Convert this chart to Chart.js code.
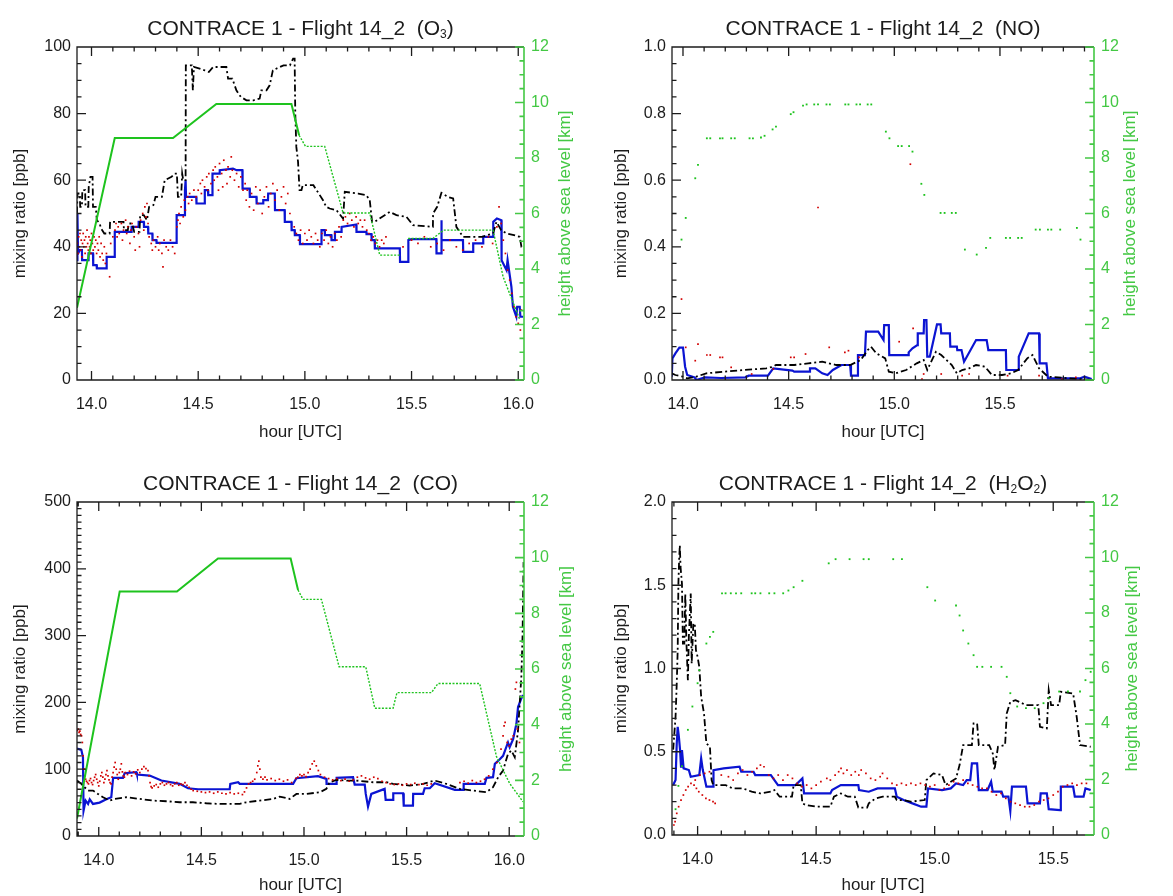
<!DOCTYPE html>
<html>
<head>
<meta charset="utf-8">
<script src="https://cdn.jsdelivr.net/npm/chart.js@4.4.0/dist/chart.umd.min.js"></script>
<style>
body{margin:0;background:#fff;width:1173px;height:896px;position:relative;overflow:hidden}
canvas{position:absolute}
</style>
</head>
<body>
<canvas id="o3" width="586" height="448" style="left:0;top:0"></canvas>
<canvas id="no" width="587" height="448" style="left:586px;top:0"></canvas>
<canvas id="co" width="586" height="448" style="left:0;top:448px"></canvas>
<canvas id="h2o2" width="587" height="448" style="left:586px;top:448px"></canvas>
<script>
// ---- O3 panel: [hour UTC, ppb] / [hour UTC, km]
const o3Blue = [[13.932,36],[13.932,50],[13.936,50],[13.937,38],[13.945,39],[13.955,39],[13.956,36],[13.985,36],[13.986,38],[14.007,38],[14.008,34.5],[14.024,34.5],[14.025,33.5],[14.07,33.5],[14.071,37],[14.108,37],[14.109,44.5],[14.187,44.5],[14.188,46],[14.22,46],[14.221,47.5],[14.245,47.5],[14.246,46],[14.265,46],[14.266,44],[14.285,44],[14.286,42],[14.304,42],[14.305,41.2],[14.398,41.2],[14.399,49.5],[14.437,49.5],[14.438,57],[14.441,60],[14.443,55],[14.491,55],[14.492,53],[14.53,53],[14.531,57],[14.546,57],[14.547,55.5],[14.566,55.5],[14.567,62],[14.6,62],[14.601,63],[14.663,63.5],[14.68,63],[14.707,63],[14.708,57.5],[14.741,57.5],[14.742,55],[14.773,55],[14.774,53],[14.804,53],[14.805,54],[14.827,54],[14.828,56],[14.859,56],[14.86,51],[14.905,51],[14.906,47.5],[14.937,47.5],[14.938,45],[14.952,45],[14.953,43.5],[14.976,43.5],[14.977,40.8],[15.077,40.8],[15.078,45],[15.093,45],[15.094,43.5],[15.124,43.5],[15.125,42],[15.14,42],[15.141,44.5],[15.171,44.5],[15.172,46],[15.241,46.7],[15.242,44.5],[15.288,44.5],[15.289,43.8],[15.312,43.8],[15.313,42],[15.327,42],[15.328,39.5],[15.445,39.5],[15.446,35.5],[15.484,35.5],[15.485,42],[15.5,42.3],[15.616,42.3],[15.617,38],[15.638,38],[15.64,48],[15.641,42],[15.741,42],[15.742,38.5],[15.788,38.5],[15.789,41],[15.835,41],[15.836,43],[15.882,43],[15.883,47.5],[15.9,48.5],[15.921,48],[15.922,36],[15.945,33],[15.95,36],[15.968,28],[15.975,22],[15.991,19],[15.995,22],[16.007,22],[16.01,19],[16.023,19]];
const o3Black = [[13.932,50],[13.934,56],[13.945,56],[13.947,52],[13.955,52],[13.957,57],[13.97,57],[13.972,52],[13.985,52],[13.987,58],[13.995,61],[14.005,61],[14.007,52],[14.02,52],[14.025,48],[14.038,47],[14.045,45.5],[14.06,44],[14.085,44],[14.087,47.5],[14.15,47.5],[14.152,45],[14.17,45],[14.175,47],[14.19,47],[14.2,44.5],[14.225,44.5],[14.228,49.5],[14.245,49.5],[14.26,48],[14.27,52],[14.29,52.5],[14.3,55],[14.33,55],[14.343,60],[14.375,61],[14.39,62],[14.4,62],[14.405,55],[14.42,55],[14.425,62],[14.43,60],[14.441,60],[14.442,94.5],[14.47,94.5],[14.475,87],[14.48,94],[14.507,93.5],[14.53,93],[14.55,92.5],[14.57,94],[14.632,94],[14.64,90.5],[14.66,90.5],[14.679,87],[14.7,85],[14.726,84],[14.76,84],[14.788,84.5],[14.796,87],[14.82,87],[14.835,88.5],[14.85,93],[14.9,94.5],[14.93,94.5],[14.945,96.5],[14.952,96.5],[14.955,80],[14.96,70],[14.968,65.5],[14.975,57],[14.984,57],[14.99,58.5],[15.04,58.5],[15.085,54],[15.1,52],[15.116,51.5],[15.148,51],[15.179,48.5],[15.187,56.5],[15.25,56],[15.288,55.5],[15.304,54],[15.315,47.5],[15.327,47.5],[15.35,48.5],[15.398,50.5],[15.429,49.5],[15.476,49],[15.507,46.5],[15.6,46],[15.601,50],[15.62,52],[15.64,56.2],[15.67,55],[15.695,54.5],[15.71,46],[15.741,43],[15.83,43],[15.882,44],[15.898,47.5],[15.92,45],[15.945,44],[15.98,43.5],[16.007,43],[16.015,40],[16.023,40]];
const o3Red = [[13.934,41],[13.937,38],[13.94,43],[13.943,40],[13.946,44],[13.949,39],[13.952,42],[13.955,37],[13.958,41],[13.961,44],[13.964,40],[13.967,42],[13.97,38],[13.973,43],[13.976,40],[13.979,45],[13.982,41],[13.985,39],[13.988,43],[13.991,40],[13.994,42],[13.997,38],[14.0,44],[14.004,41],[14.008,39],[14.012,43],[14.016,40],[14.02,42],[14.024,38],[14.028,41],[14.032,39],[14.036,43],[14.04,37],[14.045,41],[14.05,38],[14.055,36],[14.06,40],[14.065,35],[14.07,38],[14.085,31],[14.09,41],[14.1,43],[14.11,45],[14.115,47],[14.12,43],[14.125,46],[14.13,44],[14.14,47],[14.145,42],[14.15,45],[14.16,48],[14.165,44],[14.17,46],[14.18,41],[14.185,45],[14.19,47],[14.2,43],[14.205,39],[14.21,46],[14.22,44],[14.225,40],[14.23,48],[14.24,50],[14.245,45],[14.25,52],[14.255,49],[14.26,53],[14.265,47],[14.27,43],[14.28,41],[14.285,39],[14.29,42],[14.3,40],[14.31,43],[14.315,39],[14.32,41],[14.33,38],[14.335,34],[14.34,42],[14.35,40],[14.36,39],[14.37,42],[14.38,40],[14.39,38],[14.4,46],[14.405,48],[14.41,50],[14.415,47],[14.42,52],[14.43,49],[14.435,54],[14.44,51],[14.45,55],[14.455,53],[14.46,56],[14.47,54],[14.48,57],[14.49,55],[14.5,57],[14.51,59],[14.515,56],[14.52,60],[14.53,58],[14.54,61],[14.545,57],[14.55,62],[14.56,59],[14.57,63],[14.575,60],[14.58,64],[14.59,61],[14.595,57],[14.6,65],[14.61,62],[14.615,58],[14.62,66],[14.63,63],[14.635,59],[14.64,64],[14.65,61],[14.655,67],[14.66,63],[14.67,60],[14.68,62],[14.69,58],[14.7,61],[14.71,57],[14.72,59],[14.725,54],[14.73,57],[14.74,52],[14.75,56],[14.76,51],[14.77,58],[14.78,53],[14.79,57],[14.8,50],[14.81,55],[14.82,58],[14.83,52],[14.84,56],[14.85,59],[14.86,54],[14.87,57],[14.88,51],[14.89,55],[14.9,58],[14.91,53],[14.92,56],[14.93,50],[14.95,46],[14.96,44],[14.97,42],[14.98,45],[14.99,41],[15.0,44],[15.01,42],[15.02,45],[15.03,43],[15.04,41],[15.05,44],[15.06,42],[15.07,40],[15.08,44],[15.09,42],[15.1,45],[15.11,41],[15.12,43],[15.13,40],[15.14,44],[15.15,42],[15.16,46],[15.17,43],[15.18,48],[15.19,49],[15.2,47],[15.21,50],[15.22,48],[15.23,46],[15.24,49],[15.25,47],[15.26,48],[15.27,46],[15.28,48],[15.29,45],[15.3,44],[15.31,42],[15.32,43],[15.33,41],[15.34,42],[15.35,40],[15.36,42],[15.37,41],[15.38,43],[15.46,40],[15.5,42],[15.53,41],[15.56,43],[15.59,40],[15.62,41],[15.65,39],[15.68,42],[15.71,40],[15.74,39],[15.77,41],[15.8,42],[15.83,40],[15.86,43],[15.88,41],[15.9,46],[15.91,52],[15.92,47],[15.93,42],[15.94,38],[15.95,33],[15.96,30],[15.97,26],[15.98,22],[15.99,19],[16.0,17],[16.01,15],[16.015,21]];
const o3Height = [[13.932,2.6],[14.109,8.72],[14.382,8.72],[14.585,9.95],[14.937,9.95],[14.973,8.82],[15.003,8.42],[15.093,8.42],[15.179,6.02],[15.304,6.02],[15.351,4.5],[15.445,4.5],[15.465,null],[15.484,5.1],[15.6,5.1],[15.65,5.4],[15.882,5.4],[15.929,3.72],[16.008,2.16]];

// ---- NO panel
const noBlue = [[13.947,0.01],[13.95,0.065],[13.964,0.08],[13.983,0.097],[14.0,0.097],[14.01,0.04],[14.02,0.015],[14.055,0.008],[14.063,0.0],[14.104,0.008],[14.179,0.006],[14.295,0.008],[14.311,0.013],[14.402,0.013],[14.427,0.035],[14.518,0.028],[14.526,0.025],[14.6,0.025],[14.601,0.035],[14.626,0.035],[14.659,0.02],[14.684,0.015],[14.709,0.03],[14.75,0.045],[14.791,0.045],[14.795,0.013],[14.824,0.013],[14.828,0.075],[14.861,0.075],[14.866,0.145],[14.924,0.145],[14.949,0.12],[14.952,0.165],[14.974,0.165],[14.976,0.075],[15.065,0.075],[15.068,0.083],[15.086,0.095],[15.109,0.105],[15.111,0.14],[15.139,0.14],[15.141,0.18],[15.152,0.18],[15.156,0.07],[15.168,0.07],[15.202,0.167],[15.219,0.167],[15.222,0.14],[15.263,0.14],[15.265,0.1],[15.296,0.1],[15.298,0.09],[15.318,0.09],[15.33,0.055],[15.387,0.12],[15.437,0.12],[15.445,0.09],[15.528,0.09],[15.53,0.03],[15.586,0.03],[15.589,0.07],[15.636,0.14],[15.685,0.14],[15.688,0.05],[15.72,0.05],[15.727,0.005],[15.88,0.005],[15.9,0.01],[15.934,0.003]];
const noBlack = [[13.947,0.02],[13.964,0.015],[14.0,0.01],[14.02,0.005],[14.063,0.01],[14.11,0.02],[14.195,0.025],[14.29,0.03],[14.394,0.035],[14.427,0.04],[14.44,0.045],[14.526,0.045],[14.593,0.05],[14.659,0.055],[14.725,0.045],[14.791,0.045],[14.841,0.06],[14.874,0.09],[14.89,0.1],[14.915,0.08],[14.957,0.065],[14.974,0.025],[15.007,0.02],[15.056,0.03],[15.106,0.05],[15.139,0.06],[15.156,0.03],[15.197,0.085],[15.222,0.075],[15.272,0.045],[15.296,0.02],[15.321,0.03],[15.354,0.035],[15.387,0.045],[15.429,0.04],[15.462,0.015],[15.51,0.015],[15.553,0.02],[15.586,0.03],[15.629,0.065],[15.654,0.075],[15.685,0.035],[15.727,0.01],[15.934,0.0]];
const noRed = [[13.993,0.243],[14.013,0.098],[14.058,0.058],[14.071,0.108],[14.113,0.075],[14.129,0.075],[14.175,0.068],[14.187,0.068],[14.228,0.038],[14.325,0.018],[14.427,0.033],[14.51,0.068],[14.526,0.068],[14.58,0.078],[14.639,0.518],[14.692,0.098],[14.766,0.083],[14.783,0.088],[14.833,0.068],[15.023,0.115],[15.076,0.648],[15.089,0.155],[15.139,0.018],[15.131,0.003],[15.222,0.018],[15.321,0.013],[15.354,0.018],[15.536,0.013],[15.685,0.013],[15.793,0.003],[15.859,0.008]];
const noHeight = [[13.993,5.06],[14.013,5.84],[14.058,7.27],[14.071,7.75],[14.113,8.71],[14.129,8.71],[14.175,8.71],[14.187,8.71],[14.228,8.71],[14.245,8.71],[14.315,8.71],[14.331,8.71],[14.369,8.74],[14.386,8.8],[14.424,9.03],[14.44,9.13],[14.51,9.58],[14.523,9.65],[14.568,9.89],[14.585,9.93],[14.621,9.93],[14.639,9.93],[14.679,9.93],[14.695,9.93],[14.768,9.93],[14.783,9.93],[14.821,9.93],[14.838,9.93],[14.874,9.93],[14.891,9.93],[14.96,8.95],[14.977,8.71],[15.018,8.43],[15.035,8.43],[15.07,8.43],[15.086,8.23],[15.128,7.07],[15.142,6.67],[15.219,6.02],[15.238,6.02],[15.272,6.02],[15.291,6.02],[15.334,4.7],[15.39,4.52],[15.434,4.76],[15.454,5.12],[15.528,5.12],[15.548,5.12],[15.586,5.12],[15.603,5.12],[15.669,5.42],[15.689,5.42],[15.727,5.42],[15.743,5.42],[15.785,5.42],[15.864,5.48],[15.881,5.06]];

// ---- CO panel
const coBlue = [[13.894,131],[13.915,129],[13.923,118],[13.926,38],[13.936,53],[13.948,48],[13.956,55],[13.972,48],[14.004,50],[14.037,55],[14.061,58],[14.07,87],[14.118,87],[14.126,94],[14.183,95.5],[14.186,92],[14.248,90.5],[14.305,83],[14.394,78],[14.435,71.5],[14.484,70],[14.638,70],[14.641,78],[14.679,80.5],[14.687,78],[14.947,78],[14.963,86.5],[15.068,89.5],[15.109,85.5],[15.11,78],[15.158,78],[15.159,87],[15.239,88],[15.247,77],[15.296,77],[15.301,63],[15.312,44],[15.328,63],[15.393,70.5],[15.398,54],[15.434,54],[15.435,64],[15.483,64],[15.486,45.5],[15.531,45.5],[15.532,63],[15.58,63],[15.588,71.5],[15.613,71.5],[15.637,79],[15.735,69],[15.775,69],[15.778,78],[15.881,78],[15.889,87],[15.921,88],[15.93,108],[15.954,115],[15.97,120],[15.994,140],[16.002,133],[16.019,145],[16.035,168],[16.043,193],[16.059,206],[16.067,211]];
const coBlack = [[13.894,83],[13.915,78],[13.931,73],[13.948,68],[13.972,68],[13.996,63],[14.021,58],[14.053,53],[14.078,55.5],[14.134,58],[14.199,55.5],[14.264,53],[14.329,52],[14.394,50.5],[14.459,50.5],[14.524,49],[14.589,48],[14.687,48],[14.719,50.5],[14.784,53],[14.85,55.5],[14.882,59],[14.93,55.5],[14.963,63],[15.012,63],[15.077,65.5],[15.109,70.5],[15.125,80.5],[15.158,84],[15.207,83],[15.255,83],[15.337,80.5],[15.402,80.5],[15.434,78],[15.515,75.5],[15.58,78],[15.637,83],[15.694,78],[15.759,70.5],[15.824,68],[15.889,65.5],[15.921,73],[15.946,88],[15.97,98],[15.994,123],[16.01,128],[16.027,118],[16.043,158],[16.059,238],[16.065,300],[16.07,410]];
const coRed = [[13.896,158],[13.9,160],[13.904,155],[13.908,157],[13.912,152],[13.916,150],[13.92,140],[13.924,120],[13.928,100],[13.932,90],[13.936,85],[13.94,82],[13.945,80],[13.95,78],[13.955,83],[13.96,86],[13.965,80],[13.97,77],[13.975,83],[13.98,88],[13.985,92],[13.99,85],[13.995,80],[14.0,75],[14.005,82],[14.01,90],[14.015,95],[14.02,88],[14.025,80],[14.03,85],[14.035,92],[14.04,98],[14.045,90],[14.05,84],[14.055,80],[14.06,78],[14.065,88],[14.07,95],[14.075,103],[14.08,110],[14.085,100],[14.09,92],[14.095,85],[14.1,95],[14.105,100],[14.11,108],[14.115,96],[14.12,90],[14.125,88],[14.13,95],[14.14,92],[14.15,97],[14.16,90],[14.17,96],[14.18,93],[14.19,99],[14.2,95],[14.21,100],[14.22,104],[14.23,101],[14.24,98],[14.245,90],[14.25,80],[14.255,74],[14.26,72],[14.27,75],[14.28,77],[14.29,73],[14.3,78],[14.31,80],[14.32,76],[14.33,78],[14.34,80],[14.35,77],[14.36,75],[14.37,78],[14.38,80],[14.39,76],[14.4,78],[14.41,77],[14.42,80],[14.43,76],[14.44,73],[14.45,70],[14.46,68],[14.48,67],[14.5,66],[14.52,65],[14.54,66],[14.56,64],[14.58,66],[14.6,64],[14.62,63],[14.64,65],[14.66,63],[14.68,64],[14.7,62],[14.71,66],[14.72,72],[14.73,78],[14.74,80],[14.75,82],[14.76,85],[14.77,95],[14.775,105],[14.78,112],[14.785,100],[14.79,88],[14.8,85],[14.81,88],[14.82,84],[14.84,86],[14.86,83],[14.88,85],[14.9,82],[14.92,84],[14.94,80],[14.96,86],[14.97,88],[14.98,92],[14.99,90],[15.0,92],[15.01,89],[15.02,95],[15.03,100],[15.04,108],[15.05,112],[15.06,105],[15.07,98],[15.08,92],[15.1,88],[15.12,86],[15.14,84],[15.16,86],[15.18,83],[15.2,85],[15.22,82],[15.24,84],[15.26,88],[15.28,90],[15.3,87],[15.32,85],[15.34,88],[15.36,86],[15.38,82],[15.4,80],[15.42,78],[15.44,77],[15.46,78],[15.48,76],[15.5,78],[15.52,77],[15.54,79],[15.56,77],[15.58,78],[15.6,76],[15.62,78],[15.76,80],[15.78,82],[15.8,79],[15.82,83],[15.84,80],[15.86,82],[15.88,85],[15.9,90],[15.92,100],[15.94,110],[15.96,130],[15.97,150],[15.975,165],[15.98,170],[15.99,140],[16.0,135],[16.01,145],[16.02,150],[16.03,220],[16.035,230],[16.04,160],[16.05,140]];
const coHeight = [[13.894,0.63],[14.102,8.78],[14.381,8.78],[14.581,9.97],[14.935,9.97],[14.971,8.84],[14.995,8.5],[15.085,8.5],[15.171,6.08],[15.301,6.08],[15.345,4.59],[15.434,4.59],[15.453,5.15],[15.621,5.15],[15.653,5.48],[15.856,5.48],[15.938,2.85],[16.002,1.89],[16.067,1.23]];

// ---- H2O2 panel
const h2o2Blue = [[13.897,0.3],[13.907,0.33],[13.912,0.55],[13.916,0.65],[13.921,0.59],[13.926,0.51],[13.93,0.41],[13.934,0.51],[13.941,0.4],[13.963,0.39],[13.971,0.35],[14.007,0.36],[14.015,0.46],[14.022,0.39],[14.037,0.29],[14.066,0.29],[14.067,0.39],[14.11,0.4],[14.177,0.41],[14.184,0.38],[14.236,0.38],[14.243,0.36],[14.309,0.36],[14.339,0.3],[14.413,0.3],[14.442,0.34],[14.449,0.25],[14.56,0.25],[14.567,0.27],[14.604,0.3],[14.678,0.3],[14.681,0.27],[14.722,0.26],[14.759,0.28],[14.832,0.28],[14.84,0.23],[14.869,0.21],[14.906,0.19],[14.943,0.17],[14.965,0.17],[14.972,0.28],[15.031,0.27],[15.068,0.28],[15.09,0.31],[15.12,0.3],[15.135,0.33],[15.15,0.33],[15.157,0.43],[15.179,0.43],[15.186,0.27],[15.223,0.27],[15.238,0.32],[15.245,0.26],[15.282,0.26],[15.289,0.23],[15.311,0.23],[15.319,0.145],[15.326,0.29],[15.385,0.29],[15.392,0.19],[15.444,0.19],[15.447,0.25],[15.473,0.25],[15.481,0.155],[15.529,0.15],[15.532,0.29],[15.584,0.29],[15.591,0.23],[15.628,0.23],[15.636,0.28],[15.658,0.27]];
const h2o2Black = [[13.897,0.513],[13.907,0.71],[13.912,0.91],[13.916,1.11],[13.919,1.51],[13.922,1.65],[13.925,1.74],[13.928,1.61],[13.934,1.51],[13.938,1.15],[13.944,1.15],[13.948,1.45],[13.953,1.15],[13.959,0.93],[13.963,1.19],[13.971,1.45],[13.975,1.03],[13.982,1.27],[13.988,1.27],[13.993,1.11],[14.0,1.07],[14.007,1.01],[14.015,0.83],[14.027,0.73],[14.037,0.55],[14.052,0.53],[14.059,0.33],[14.066,0.3],[14.118,0.3],[14.147,0.28],[14.191,0.28],[14.228,0.26],[14.265,0.25],[14.309,0.26],[14.324,0.27],[14.346,0.23],[14.398,0.23],[14.405,0.3],[14.435,0.3],[14.442,0.19],[14.457,0.18],[14.5,0.17],[14.56,0.17],[14.575,0.23],[14.604,0.25],[14.634,0.23],[14.663,0.23],[14.678,0.165],[14.715,0.165],[14.722,0.19],[14.751,0.22],[14.781,0.23],[14.832,0.23],[14.84,0.21],[14.869,0.21],[14.899,0.2],[14.958,0.21],[14.965,0.33],[14.995,0.37],[15.031,0.36],[15.046,0.3],[15.09,0.34],[15.105,0.42],[15.12,0.54],[15.157,0.54],[15.164,0.67],[15.179,0.67],[15.186,0.54],[15.23,0.54],[15.245,0.49],[15.252,0.39],[15.267,0.53],[15.297,0.54],[15.304,0.73],[15.319,0.8],[15.341,0.81],[15.385,0.78],[15.437,0.78],[15.444,0.65],[15.473,0.64],[15.481,0.87],[15.491,0.78],[15.525,0.78],[15.532,0.86],[15.584,0.85],[15.599,0.71],[15.613,0.54],[15.658,0.53]];
const h2o2Red = [[13.9,0.06],[13.905,0.08],[13.912,0.13],[13.92,0.17],[13.93,0.21],[13.94,0.24],[13.95,0.27],[13.96,0.29],[13.972,0.31],[13.985,0.3],[13.995,0.28],[14.005,0.26],[14.02,0.24],[14.035,0.22],[14.05,0.21],[14.065,0.2],[14.074,0.19],[13.99,0.33],[14.01,0.36],[14.03,0.37],[14.05,0.38],[14.1,0.36],[14.13,0.35],[14.15,0.33],[14.17,0.37],[14.19,0.39],[14.21,0.36],[14.23,0.38],[14.25,0.4],[14.265,0.42],[14.28,0.41],[14.3,0.36],[14.32,0.34],[14.34,0.36],[14.36,0.33],[14.38,0.36],[14.4,0.34],[14.42,0.31],[14.44,0.29],[14.46,0.3],[14.48,0.28],[14.5,0.3],[14.52,0.32],[14.545,0.34],[14.56,0.33],[14.58,0.36],[14.595,0.38],[14.605,0.4],[14.615,0.37],[14.63,0.39],[14.648,0.36],[14.665,0.38],[14.68,0.36],[14.69,0.39],[14.71,0.37],[14.73,0.34],[14.75,0.33],[14.77,0.35],[14.78,0.37],[14.8,0.34],[14.82,0.31],[14.84,0.3],[14.86,0.31],[14.88,0.3],[14.9,0.31],[14.92,0.3],[14.94,0.31],[14.96,0.3],[14.98,0.29],[15.0,0.3],[15.02,0.27],[15.04,0.28],[15.06,0.3],[15.08,0.32],[15.1,0.31],[15.12,0.33],[15.14,0.31],[15.16,0.3],[15.18,0.29],[15.2,0.28],[15.22,0.28],[15.24,0.26],[15.26,0.24],[15.28,0.25],[15.3,0.22],[15.32,0.2],[15.34,0.19],[15.36,0.18],[15.38,0.17],[15.4,0.17],[15.42,0.18],[15.44,0.2],[15.46,0.21],[15.48,0.22],[15.5,0.24],[15.52,0.26],[15.54,0.29],[15.56,0.3],[15.58,0.31],[15.6,0.3],[15.62,0.31],[15.64,0.31]];
const h2o2Height = [[13.907,0.93],[13.919,1.77],[13.934,2.48],[13.959,3.79],[13.978,4.63],[14.0,5.47],[14.007,5.94],[14.037,6.9],[14.052,7.14],[14.066,7.32],[14.103,8.71],[14.118,8.71],[14.14,8.71],[14.162,8.71],[14.184,8.71],[14.228,8.71],[14.243,8.71],[14.265,8.71],[14.302,8.71],[14.324,8.71],[14.361,8.71],[14.383,8.81],[14.405,8.93],[14.442,9.16],[14.553,9.79],[14.582,9.94],[14.641,9.94],[14.7,9.94],[14.722,9.94],[14.825,9.94],[14.862,9.94],[14.969,8.93],[15.002,8.45],[15.09,8.27],[15.105,7.91],[15.12,7.37],[15.142,6.9],[15.164,6.48],[15.179,6.06],[15.201,6.06],[15.238,6.06],[15.282,6.06],[15.304,5.7],[15.319,5.11],[15.348,4.63],[15.385,4.57],[15.422,4.57],[15.459,4.75],[15.481,4.93],[15.525,5.17],[15.562,5.17],[15.613,5.17],[15.636,5.58],[15.658,5.88]];

const GREEN_AX = "#44c844";
const GREEN_LN = "#1ec31e";
const RED = "#d20000";
const BLUE = "#0b14d2";
const INK = "#1c1c1c";

Chart.defaults.font.family = "'Liberation Sans', Arial, Helvetica, sans-serif";
Chart.defaults.color = INK;

// per-panel layout, looked up by canvas id
const panels = {
  o3:   {title: [["CONTRACE 1 - Flight 14_2  (O", 0], ["3", 1], [")", 0]], titleY: 35, rightTitleX: 565,
         xMin: 13.932, xMax: 16.027, yMax: 100, yMajor: 20, yMinor: 5, yDec: 0,
         top: 47, xH: 68, leftW: 77, rightW: 62, yTitlePad: 10, xTitlePad: 5,
         blue: o3Blue, black: o3Black, red: o3Red, green: o3Height, greenDots: false, dotFrom: 14.94},
  no:   {title: [["CONTRACE 1 - Flight 14_2  (NO)", 0]], titleY: 35, rightTitleX: 544,
         xMin: 13.948, xMax: 15.945, yMax: 1.0, yMajor: 0.2, yMinor: 0.05, yDec: 1,
         top: 47, xH: 68, leftW: 86, rightW: 79, yTitlePad: 25, xTitlePad: 5,
         blue: noBlue, black: noBlack, red: noRed, green: noHeight, greenDots: true},
  co:   {title: [["CONTRACE 1 - Flight 14_2  (CO)", 0]], titleY: 42, rightTitleX: 566,
         xMin: 13.894, xMax: 16.072, yMax: 500, yMajor: 100, yMinor: 10, yDec: 0,
         top: 54, xH: 60, leftW: 77, rightW: 62, yTitlePad: 10, xTitlePad: 0,
         blue: coBlue, black: coBlack, red: coRed, green: coHeight, greenDots: false, dotFrom: 14.94},
  h2o2: {title: [["CONTRACE 1 - Flight 14_2  (H", 0], ["2", 1], ["O", 0], ["2", 1], [")", 0]], titleY: 42, rightTitleX: 546,
         xMin: 13.892, xMax: 15.672, yMax: 2.0, yMajor: 0.5, yMinor: 0.1, yDec: 1,
         top: 54, xH: 61, leftW: 86, rightW: 79, yTitlePad: 25, xTitlePad: 0,
         blue: h2o2Blue, black: h2o2Black, red: h2o2Red, green: h2o2Height, greenDots: true}
};

function pts(a) {
  return a.map(p => ({x: p[0], y: p[1]}));
}

// IDL style frame: inward ticks on all sides, green altitude axis on the right
const axisFrame = {
  id: "axisFrame",
  afterDraw(chart) {
    const c = panels[chart.canvas.id];
    const {ctx, chartArea: a, scales} = chart;
    const x = scales.x, y = scales.y, h = scales.y1;
    ctx.save();
    ctx.lineWidth = 1.3;
    ctx.strokeStyle = INK;
    ctx.beginPath();
    for (let i = Math.ceil(x.min * 10 - 1e-6); i / 10 <= x.max + 1e-9; i++) {
      const px = x.getPixelForValue(i / 10);
      const len = i % 5 === 0 ? 9 : 4.5;
      ctx.moveTo(px, a.bottom); ctx.lineTo(px, a.bottom - len);
      ctx.moveTo(px, a.top); ctx.lineTo(px, a.top + len);
    }
    const n = Math.round(c.yMax / c.yMinor);
    const per = Math.round(c.yMajor / c.yMinor);
    for (let i = 1; i < n; i++) {
      const py = y.getPixelForValue(i * c.yMinor);
      ctx.moveTo(a.left, py); ctx.lineTo(a.left + (i % per === 0 ? 9 : 4.5), py);
    }
    ctx.moveTo(a.right, a.top); ctx.lineTo(a.left, a.top); ctx.lineTo(a.left, a.bottom); ctx.lineTo(a.right, a.bottom);
    ctx.stroke();

    ctx.strokeStyle = GREEN_AX;
    ctx.lineWidth = 1.6;
    ctx.beginPath();
    ctx.moveTo(a.right, a.top); ctx.lineTo(a.right, a.bottom);
    for (let i = 0; i <= 24; i++) {
      const py = h.getPixelForValue(i * 0.5);
      ctx.moveTo(a.right, py); ctx.lineTo(a.right - (i % 4 === 0 ? 9 : 4.5), py);
    }
    ctx.stroke();

    // panel title, centred on the plot area, with subscripts
    const big = "21px 'Liberation Sans', Arial, sans-serif";
    const small = "12px 'Liberation Sans', Arial, sans-serif";
    let w = 0;
    c.title.forEach(([t, s]) => { ctx.font = s ? small : big; w += ctx.measureText(t).width; });
    let tx = (a.left + a.right) / 2 - w / 2;
    ctx.fillStyle = INK;
    ctx.textAlign = "left";
    ctx.textBaseline = "alphabetic";
    c.title.forEach(([t, s]) => {
      ctx.font = s ? small : big;
      ctx.fillText(t, tx, c.titleY + (s ? 3 : 0));
      tx += ctx.measureText(t).width;
    });

    // right axis title reads bottom to top
    ctx.translate(c.rightTitleX, (a.top + a.bottom) / 2);
    ctx.rotate(-Math.PI / 2);
    ctx.font = "17px 'Liberation Sans', Arial, sans-serif";
    ctx.fillStyle = GREEN_AX;
    ctx.textAlign = "center";
    ctx.textBaseline = "middle";
    ctx.fillText("height above sea level [km]", 0, 0);
    ctx.restore();
  }
};

function makePanel(id) {
  const c = panels[id];
  const datasets = [];
  if (c.greenDots) {
    datasets.push({data: pts(c.green), yAxisID: "y1", showLine: false, pointStyle: "rect",
      pointRadius: 1.3, pointBackgroundColor: GREEN_LN, pointBorderWidth: 0});
  } else {
    datasets.push({data: pts(c.green), yAxisID: "y1", borderColor: GREEN_LN, borderWidth: 2, pointRadius: 0,
      spanGaps: false,
      segment: {
        borderDash: s => s.p0.parsed.x >= c.dotFrom ? [2, 1.5] : undefined,
        borderWidth: s => s.p0.parsed.x >= c.dotFrom ? 1.4 : 2
      }});
  }
  datasets.push({data: pts(c.red), yAxisID: "y", showLine: false, pointStyle: "rect",
    pointRadius: 1.2, pointBackgroundColor: RED, pointBorderWidth: 0});
  datasets.push({data: pts(c.black), yAxisID: "y", borderColor: "#000", borderWidth: 1.8,
    borderDash: [7, 3, 2, 3], pointRadius: 0});
  datasets.push({data: pts(c.blue), yAxisID: "y", borderColor: BLUE, borderWidth: 2.2, pointRadius: 0});

  new Chart(document.getElementById(id), {
    type: "line",
    data: {datasets},
    options: {
      responsive: false,
      animation: false,
      events: [],
      layout: {padding: {top: c.top, left: 0, right: 0, bottom: 0}},
      plugins: {legend: {display: false}, tooltip: {enabled: false}},
      scales: {
        x: {
          type: "linear", min: c.xMin, max: c.xMax,
          grid: {display: false, drawTicks: false}, border: {display: false},
          ticks: {stepSize: 0.5, includeBounds: false, padding: 15, maxRotation: 0, autoSkip: false,
                  font: {size: 16}, color: INK, callback: v => v.toFixed(1)},
          title: {display: true, text: "hour [UTC]", font: {size: 17}, color: INK,
                  padding: {top: 0, bottom: c.xTitlePad}},
          afterFit: s => { s.height = c.xH; }
        },
        y: {
          type: "linear", position: "left", min: 0, max: c.yMax,
          grid: {display: false, drawTicks: false}, border: {display: false},
          ticks: {stepSize: c.yMajor, includeBounds: false, padding: 6, font: {size: 16}, color: INK,
                  callback: v => v.toFixed(c.yDec)},
          title: {display: true, text: "mixing ratio [ppb]", font: {size: 17}, color: INK,
                  padding: {top: c.yTitlePad, bottom: 0}},
          afterFit: s => { s.width = c.leftW; }
        },
        y1: {
          type: "linear", position: "right", min: 0, max: 12,
          grid: {display: false, drawTicks: false}, border: {display: false},
          ticks: {stepSize: 2, includeBounds: false, padding: 7, font: {size: 16}, color: GREEN_AX,
                  callback: v => v.toFixed(0)},
          afterFit: s => { s.width = c.rightW; }
        }
      }
    },
    plugins: [axisFrame]
  });
}

["o3", "no", "co", "h2o2"].forEach(makePanel);
</script>
</body>
</html>
